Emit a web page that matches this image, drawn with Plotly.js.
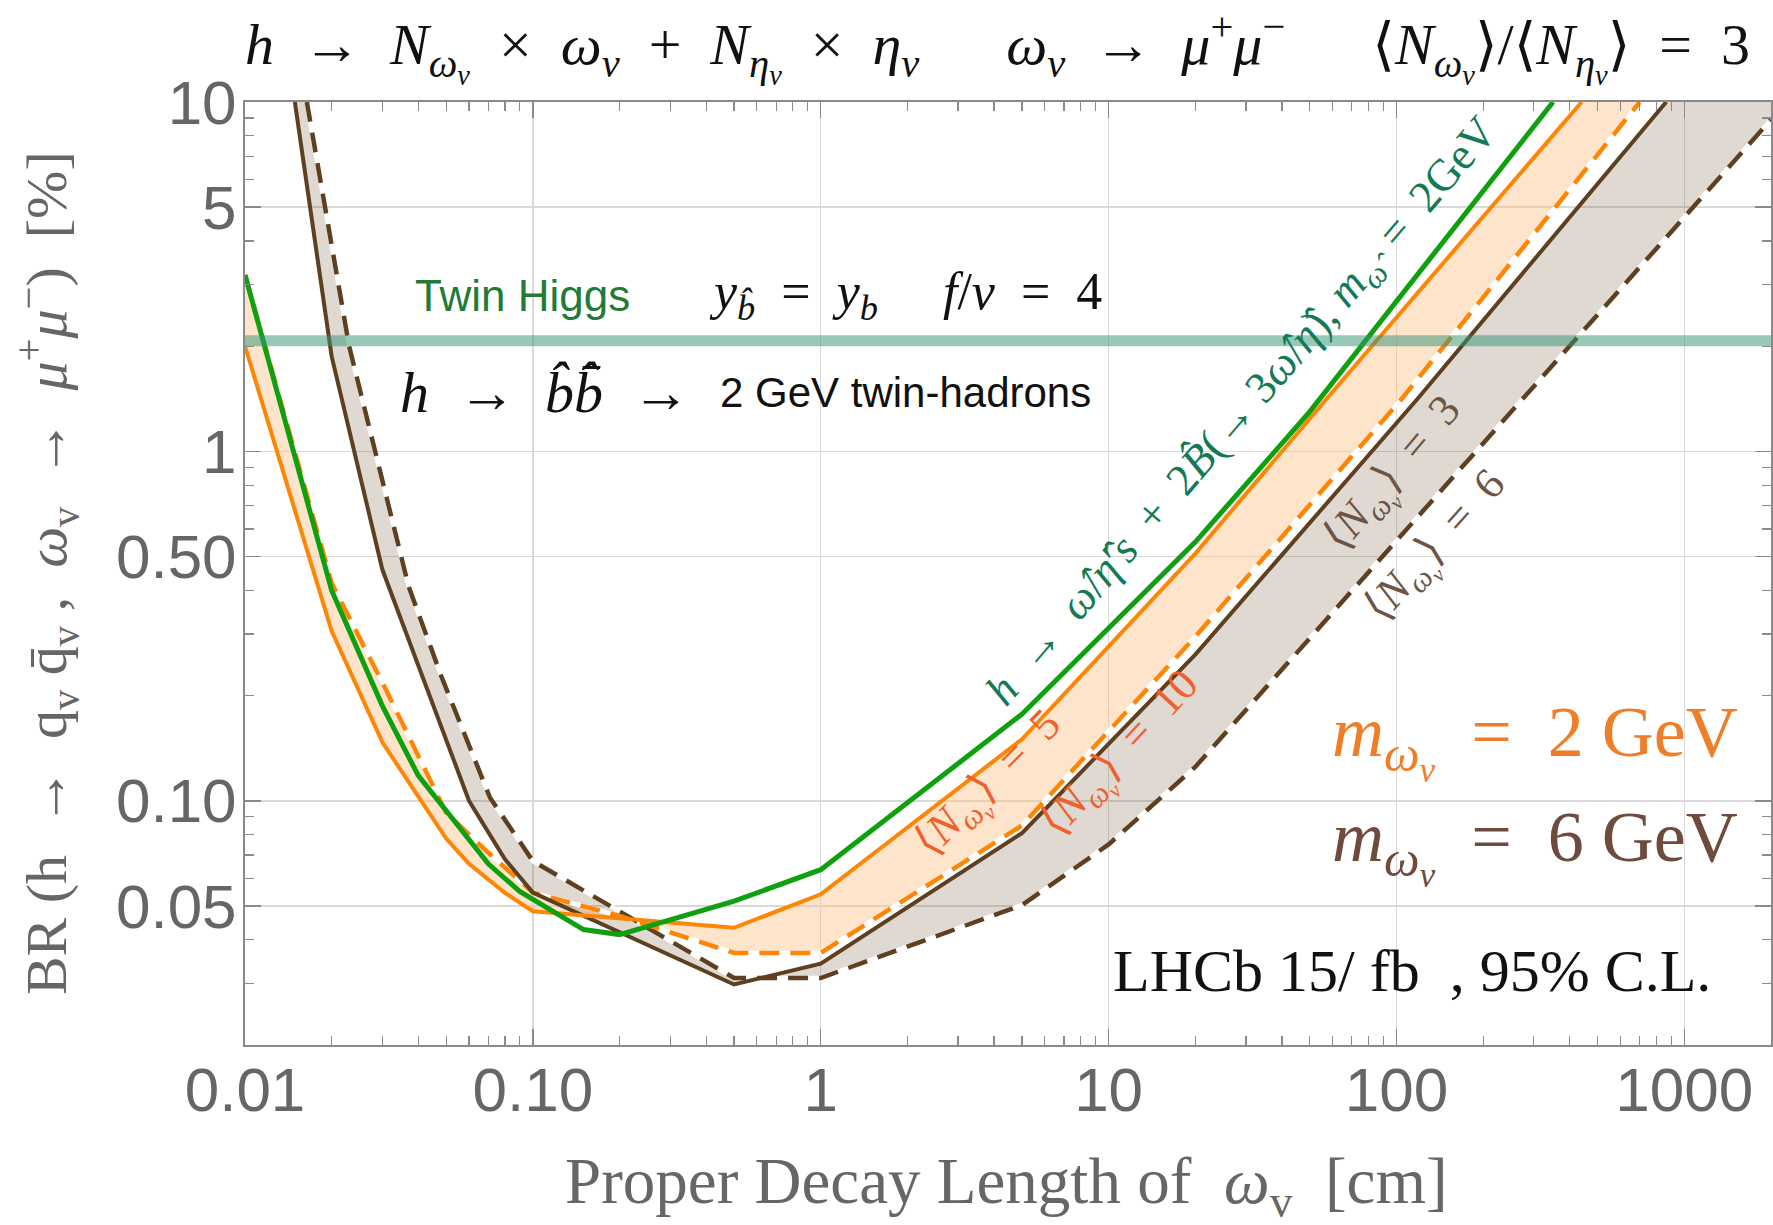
<!DOCTYPE html>
<html>
<head>
<meta charset="utf-8">
<script src="https://cdn.plot.ly/plotly-3.0.1.min.js"></script>
<style>
  html, body { margin: 0; padding: 0; background: #ffffff; }
  #chart { width: 1773px; height: 1225px; }
</style>
</head>
<body>
<div id="chart"></div>
<script>
// Axis extents: proper decay length [cm] and branching ratio [%]
const decayRange = [0.01, 2000];
const brRange = [0.02, 10];

// m_ωv = 2 GeV, <N_ωv> = 5 (solid orange)
const orange5X = [0.01, 0.02, 0.03, 0.05, 0.06, 0.08, 0.1, 0.5, 1, 5, 20, 57, 440];
const orange5Y = [2.0, 0.306, 0.147, 0.078, 0.066, 0.0545, 0.0483, 0.0433, 0.054, 0.150, 0.51, 1.41, 10];

// m_ωv = 2 GeV, <N_ωv> = 10 (dashed orange)
const orange10X = [0.01, 0.02, 0.03, 0.05, 0.07, 0.1, 0.2, 0.5, 1, 5, 20, 104, 700];
const orange10Y = [3.2, 0.42, 0.218, 0.0924, 0.071, 0.0546, 0.0468, 0.0367, 0.0367, 0.085, 0.295, 1.41, 10];

// m_ωv = 6 GeV, <N_ωv> = 3 (solid brown)
const brown3X = [0.0149, 0.02, 0.03, 0.06, 0.08, 0.1, 0.5, 1, 5, 20, 118, 865];
const brown3Y = [10, 1.87, 0.459, 0.100, 0.068, 0.0546, 0.0298, 0.0342, 0.0808, 0.262, 1.41, 10];

// m_ωv = 6 GeV, <N_ωv> = 6 (dashed brown)
const brown6X = [0.0164, 0.023, 0.037, 0.048, 0.071, 0.1, 0.5, 1, 5, 10, 20, 274, 2000];
const brown6Y = [10, 2.0, 0.411, 0.228, 0.102, 0.0672, 0.0311, 0.0311, 0.0503, 0.075, 0.125, 1.41, 8.9];

// Twin hadrons, m_ω̂ = 2 GeV (green)
const twinX = [0.01, 0.02, 0.03, 0.04, 0.07, 0.09, 0.15, 0.2, 0.5, 1, 5, 20, 50, 350];
const twinY = [3.2, 0.40, 0.187, 0.118, 0.066, 0.055, 0.0428, 0.0414, 0.0516, 0.0635, 0.177, 0.55, 1.3, 10];

// Twin Higgs prediction, y_b̂ = y_b, f/v = 4: BR band [%]
const twinHiggsBR = [2.0, 2.15];

// Tick labels
const xTickVals = [0.01, 0.1, 1, 10, 100, 1000];
const xTickText = ['0.01', '0.10', '1', '10', '100', '1000'];
const yTickVals = [0.05, 0.1, 0.5, 1, 5, 10];
const yTickText = ['0.05', '0.10', '0.50', '1', '5', '10'];

// Minor ticks between decades
function minorTicks(lo, hi, skip) {
  const out = [];
  for (let d = 1e-3; d <= 1e4; d *= 10) {
    for (let k = 2; k <= 9; k++) {
      const v = +(k * d).toPrecision(3);
      if (v > lo && v < hi && skip.indexOf(v) < 0) out.push(v);
    }
  }
  return out;
}
const xMinor = minorTicks(decayRange[0], decayRange[1], []);
const yMinor = minorTicks(brRange[0], brRange[1], yTickVals);

const ORANGE = '#ff8505';
const BROWN = '#5e3f20';
const GREEN = '#0ea00e';
const DASH = '20px,11px';

const rev = a => a.slice().reverse();

const traces = [
  // shaded region between the two 2 GeV curves
  {
    x: orange5X.concat(rev(orange10X)),
    y: orange5Y.concat(rev(orange10Y)),
    mode: 'lines', fill: 'toself', line: {width: 0},
    fillcolor: 'rgba(252,190,130,0.42)', hoverinfo: 'skip'
  },
  // shaded region between the two 6 GeV curves (closed through the top-right corner)
  {
    x: brown3X.concat([decayRange[1]], rev(brown6X)),
    y: brown3Y.concat([brRange[1]], rev(brown6Y)),
    mode: 'lines', fill: 'toself', line: {width: 0},
    fillcolor: 'rgba(110,80,50,0.22)', hoverinfo: 'skip'
  },
  // white backing so the dash gaps read as white
  { x: orange10X, y: orange10Y, mode: 'lines', line: {color: '#ffffff', width: 4.5}, hoverinfo: 'skip' },
  { x: brown6X, y: brown6Y, mode: 'lines', line: {color: '#ffffff', width: 4.5}, hoverinfo: 'skip' },
  // dashed curves
  { x: brown6X, y: brown6Y, mode: 'lines', line: {color: BROWN, width: 4.5, dash: DASH} },
  { x: orange10X, y: orange10Y, mode: 'lines', line: {color: ORANGE, width: 4.5, dash: DASH} },
  // solid curves
  { x: brown3X, y: brown3Y, mode: 'lines', line: {color: BROWN, width: 4} },
  { x: orange5X, y: orange5Y, mode: 'lines', line: {color: ORANGE, width: 4} },
  { x: twinX, y: twinY, mode: 'lines', line: {color: GREEN, width: 5} },
  // Twin Higgs band
  {
    x: [decayRange[0], decayRange[1], decayRange[1], decayRange[0]],
    y: [twinHiggsBR[0], twinHiggsBR[0], twinHiggsBR[1], twinHiggsBR[1]],
    mode: 'lines', fill: 'toself', line: {width: 0},
    fillcolor: 'rgba(55,150,118,0.52)', hoverinfo: 'skip'
  }
];

const SERIF = 'Liberation Serif, DejaVu Serif, serif';
const SANS = 'Liberation Sans, Arial, sans-serif';
const NB = '\u00a0';
const sp = n => NB.repeat(n);
const Nw = '⟨<i>N</i><sub><i>ω<sub>v</sub></i></sub>⟩';
const Ne = '⟨<i>N</i><sub><i>η<sub>v</sub></i></sub>⟩';
const op = s => NB + ' ' + s + ' ' + NB;

function ann(text, x, y, opts) {
  return Object.assign({
    text: text, x: x, y: y, xref: 'paper', yref: 'paper',
    showarrow: false, xanchor: 'center', yanchor: 'middle'
  }, opts);
}

const annotations = [
  // heading
  ann('<i>h</i>' + op('→') + '<i>N</i><sub><i>ω<sub>v</sub></i></sub>' + op('×') + '<i>ω<sub>v</sub></i>' + op('+') +
      '<i>N</i><sub><i>η<sub>v</sub></i></sub>' + op('×') + '<i>η<sub>v</sub></i>' + sp(6) +
      '<i>ω<sub>v</sub></i>' + op('→') + '<i>μ</i><sup>+</sup><i>μ</i><sup>−</sup>' + sp(6) +
      Nw + '/' + Ne + op('=') + '3',
      0.4928, 1.058, {font: {family: SERIF, size: 58, color: '#111'}}),
  // y axis title
  ann('BR' + NB + '(h' + op('→') + 'q<sub>v</sub>' + NB + 'q̄<sub>v</sub>' + NB + ',' + sp(2) + '<i>ω</i><sub>v</sub>' + op('→') +
      '<i>μ</i><sup>+</sup><i>μ</i><sup>−</sup>)' + sp(2) + '[%]',
      -0.130, 0.5, {textangle: -90, font: {family: SERIF, size: 58, color: '#666'}}),
  // x axis title
  ann('Proper Decay Length of' + sp(2) + '<i>ω</i><sub>v</sub>' + sp(2) + '[cm]',
      0.499, -0.15, {font: {family: SERIF, size: 65, color: '#666'}}),
  // Twin Higgs labels
  ann('Twin Higgs', 0.1103, 0.795, {xanchor: 'left', font: {family: SANS, size: 44, color: '#237a35'}}),
  ann('<i>y</i><sub><i>b̂</i></sub>' + op('=') + '<i>y<sub>b</sub></i>' + sp(5) + '<i>f</i>/<i>v</i>' + op('=') + '4',
      0.303, 0.795, {xanchor: 'left', font: {family: SERIF, size: 52, color: '#111'}}),
  ann('<i>h</i>' + op('→') + '<i>b̂b̂̄</i>' + op('→'), 0.1003, 0.692, {xanchor: 'left', font: {family: SERIF, size: 58, color: '#111'}}),
  ann('2 GeV twin-hadrons', 0.310, 0.692, {xanchor: 'left', font: {family: SANS, size: 42, color: '#111'}}),
  // curve labels
  ann('<i>h</i>' + op('→') + '<i>ω̂</i>/<i>η̂</i>′<i>s</i>' + op('+') + '2<i>B̂</i>(→ 3<i>ω̂</i>/<i>η̂</i>),' + NB + '<i>m</i><sub><i>ω̂</i></sub>' + op('=') + '2GeV',
      0.654, 0.670, {textangle: -49.4, font: {family: SERIF, size: 45, color: '#137a55'}}),
  ann(Nw + op('=') + '5', 0.489, 0.2744, {textangle: -45, font: {family: SERIF, size: 44, color: '#f0602a'}}),
  ann(Nw + op('=') + '10', 0.5753, 0.3063, {textangle: -47, font: {family: SERIF, size: 44, color: '#f0602a'}}),
  ann(Nw + op('=') + '3', 0.7541, 0.603, {textangle: -50, font: {family: SERIF, size: 44, color: '#6e5446'}}),
  ann(Nw + op('=') + '6', 0.782, 0.527, {textangle: -48, font: {family: SERIF, size: 44, color: '#6e5446'}}),
  // mass legend
  ann('<i>m</i><sub><i>ω<sub>v</sub></i></sub>' + op('=') + '2' + NB + 'GeV', 0.980, 0.322,
      {xanchor: 'right', font: {family: SERIF, size: 72, color: '#f07d28'}}),
  ann('<i>m</i><sub><i>ω<sub>v</sub></i></sub>' + op('=') + '6' + NB + 'GeV', 0.980, 0.211,
      {xanchor: 'right', font: {family: SERIF, size: 72, color: '#6e4b3c'}}),
  ann('LHCb 15/' + NB + 'fb' + sp(2) + ', 95% C.L.', 0.962, 0.078,
      {xanchor: 'right', font: {family: SERIF, size: 60, color: '#111'}})
];

const axisCommon = {
  type: 'log',
  tickmode: 'array',
  ticks: 'inside', ticklen: 16, tickwidth: 1.5, tickcolor: '#8a8a8a',
  showline: true, linecolor: '#8a8a8a', linewidth: 2, mirror: 'allticks',
  showgrid: true, gridcolor: '#d9d9d9', gridwidth: 1.5,
  zeroline: false,
  tickfont: {family: SANS, size: 62, color: '#666666'}
};

const layout = {
  width: 1773, height: 1225,
  margin: {l: 245, r: 2, t: 102, b: 180},
  paper_bgcolor: '#ffffff', plot_bgcolor: '#ffffff',
  showlegend: false,
  xaxis: Object.assign({}, axisCommon, {
    range: [Math.log10(decayRange[0]), Math.log10(decayRange[1])],
    tickvals: xTickVals, ticktext: xTickText,
    ticklabelstandoff: -10,
    minor: {tickmode: 'array', tickvals: xMinor, ticks: 'inside', ticklen: 9, tickwidth: 1.2, tickcolor: '#8a8a8a', showgrid: false}
  }),
  yaxis: Object.assign({}, axisCommon, {
    range: [Math.log10(brRange[0]), Math.log10(brRange[1])],
    tickvals: yTickVals, ticktext: yTickText,
    ticklabelstandoff: -6,
    minor: {tickmode: 'array', tickvals: yMinor, ticks: 'inside', ticklen: 9, tickwidth: 1.2, tickcolor: '#8a8a8a', showgrid: false}
  }),
  annotations: annotations
};

Plotly.newPlot('chart', traces, layout, {staticPlot: true, displayModeBar: false});
</script>
</body>
</html>
